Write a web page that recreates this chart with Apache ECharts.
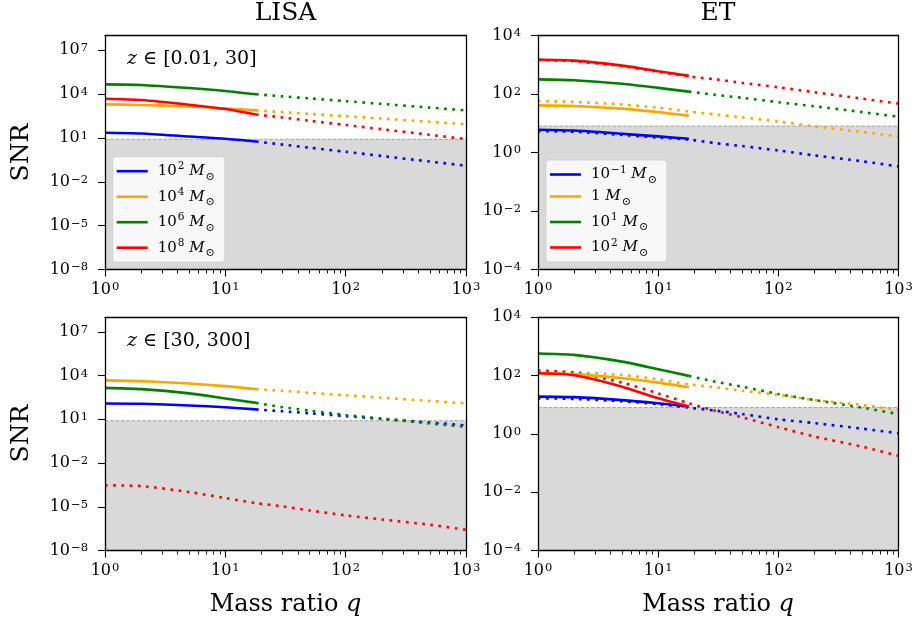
<!DOCTYPE html>
<html>
<head>
<meta charset="utf-8">
<script src="https://cdn.jsdelivr.net/npm/echarts@6/dist/echarts.min.js"></script>
<style>
    html, body { margin: 0; padding: 0; background: #fff; }
    #chart { width: 917px; height: 623px; }
</style>
</head>
<body>
<div id="chart"></div>
<script>
// mass ratio grid for the solid part and for the dotted part
const qSolid = [1, 2, 5, 10, 18]
const qDotted = [1, 2, 5, 10, 18, 30, 50, 100, 200, 500, 1000]
const snrThreshold = 8

// tick exponents (axes are log10)
const xTicks = [0, 1, 2, 3]
const xMinorTicks = [2, 3, 4, 5, 6, 7, 8, 9, 20, 30, 40, 50, 60, 70, 80, 90, 200, 300, 400, 500, 600, 700, 800, 900]
const lisaYTicks = [-8, -5, -2, 1, 4, 7]
const etYTicks = [-4, -2, 0, 2, 4]

// ---- all values below are log10(SNR) ----
// LISA, z in [0.01, 30]
const lisaLo_m2_solid = [1.35, 1.30, 1.09, 0.94, 0.75]
const lisaLo_m4_solid = [3.29, 3.25, 3.15, 3.01, 2.88]
const lisaLo_m6_solid = [4.66, 4.62, 4.41, 4.21, 3.98]
const lisaLo_m8_solid = [3.68, 3.59, 3.27, 2.97, 2.60]
const lisaLo_m2_dotted = [null, null, null, null, 0.75, 0.54, 0.33, 0.05, -0.24, -0.62, -0.90]
const lisaLo_m4_dotted = [null, null, null, null, 2.88, 2.76, 2.64, 2.48, 2.32, 2.10, 1.94]
const lisaLo_m6_dotted = [null, null, null, null, 3.98, 3.84, 3.70, 3.51, 3.32, 3.07, 2.88]
const lisaLo_m8_dotted = [null, null, null, null, 2.60, 2.39, 2.17, 1.88, 1.59, 1.21, 0.92]

// LISA, z in [30, 300]
const lisaHi_m2_solid = [2.09, 2.07, 1.95, 1.83, 1.68]
const lisaHi_m4_solid = [3.67, 3.62, 3.46, 3.28, 3.07]
const lisaHi_m6_solid = [3.16, 3.07, 2.78, 2.43, 2.13]
const lisaHi_m8_solid = null
const lisaHi_m2_dotted = [null, null, null, null, 1.68, 1.55, 1.42, 1.22, 1.03, 0.78, 0.58]
const lisaHi_m4_dotted = [null, null, null, null, 3.07, 2.95, 2.82, 2.65, 2.48, 2.26, 2.09]
const lisaHi_m6_dotted = [null, null, null, null, 2.13, 1.83, 1.60, 1.30, 1.05, 0.72, 0.48]
const lisaHi_m8_dotted = [-3.53, -3.58, -3.99, -4.40, -4.75, -4.97, -5.25, -5.59, -5.87, -6.23, -6.58]

// ET, z in [0.01, 30]
const etLo_m01_solid = [0.78, 0.75, 0.64, 0.55, 0.47]
const etLo_m1_solid = [1.61, 1.59, 1.50, 1.38, 1.26]
const etLo_m10_solid = [2.50, 2.47, 2.35, 2.21, 2.08]
const etLo_m100_solid = [3.18, 3.14, 2.97, 2.78, 2.62]
const etLo_m01_dotted = [0.73, 0.71, 0.60, 0.51, 0.44, 0.32, 0.22, 0.07, -0.10, -0.30, -0.48]
const etLo_m1_dotted = [1.76, 1.73, 1.64, 1.53, 1.40, 1.30, 1.20, 1.06, 0.89, 0.70, 0.55]
const etLo_m10_dotted = [null, null, null, null, 2.08, 1.97, 1.87, 1.72, 1.58, 1.38, 1.22]
const etLo_m100_dotted = [3.16, 3.12, 2.95, 2.76, 2.60, 2.50, 2.38, 2.23, 2.06, 1.84, 1.67]

// ET, z in [30, 300]
const etHi_m01_solid = [1.28, 1.26, 1.16, 1.05, 0.94]
const etHi_m1_solid = [2.10, 2.05, 1.91, 1.76, 1.60]
const etHi_m10_solid = [2.76, 2.71, 2.48, 2.22, 1.99]
const etHi_m100_solid = [2.08, 2.01, 1.62, 1.22, 0.94]
const etHi_m01_dotted = [1.22, 1.20, 1.12, 1.02, 0.90, 0.80, 0.68, 0.50, 0.37, 0.18, 0.02]
const etHi_m1_dotted = [2.17, 2.12, 2.02, 1.87, 1.70, 1.60, 1.48, 1.34, 1.16, 0.99, 0.82]
const etHi_m10_dotted = [null, null, null, null, 1.99, 1.79, 1.62, 1.37, 1.16, 0.90, 0.68]
const etHi_m100_dotted = [2.17, 2.10, 1.76, 1.39, 1.05, 0.79, 0.57, 0.23, -0.09, -0.44, -0.75]

const colors = ['#0000ff', '#ffa500', '#008000', '#ff0000']
const FONT = '"DejaVu Serif", "Liberation Serif", serif'

const panels = [
    {solid: [lisaLo_m2_solid, lisaLo_m4_solid, lisaLo_m6_solid, lisaLo_m8_solid],
     dotted: [lisaLo_m2_dotted, lisaLo_m4_dotted, lisaLo_m6_dotted, lisaLo_m8_dotted],
     grid: {left: 105, top: 35.5, width: 361, height: 234}, yMin: -8, yMax: 8, yTicks: lisaYTicks},
    {solid: [etLo_m01_solid, etLo_m1_solid, etLo_m10_solid, etLo_m100_solid],
     dotted: [etLo_m01_dotted, etLo_m1_dotted, etLo_m10_dotted, etLo_m100_dotted],
     grid: {left: 538, top: 35.5, width: 360.5, height: 234}, yMin: -4, yMax: 4, yTicks: etYTicks},
    {solid: [lisaHi_m2_solid, lisaHi_m4_solid, lisaHi_m6_solid, lisaHi_m8_solid],
     dotted: [lisaHi_m2_dotted, lisaHi_m4_dotted, lisaHi_m6_dotted, lisaHi_m8_dotted],
     grid: {left: 105, top: 317.3, width: 361, height: 233.2}, yMin: -8, yMax: 8, yTicks: lisaYTicks},
    {solid: [etHi_m01_solid, etHi_m1_solid, etHi_m10_solid, etHi_m100_solid],
     dotted: [etHi_m01_dotted, etHi_m1_dotted, etHi_m10_dotted, etHi_m100_dotted],
     grid: {left: 538, top: 317.3, width: 360.5, height: 233.2}, yMin: -4, yMax: 4, yTicks: etYTicks}
]

const tickRich = {
    b: {fontFamily: FONT, fontSize: 16, lineHeight: 16, verticalAlign: 'bottom', color: '#000'},
    s: {fontFamily: FONT, fontSize: 11.5, lineHeight: 12, verticalAlign: 'top', padding: [0, 0, 8, 1], color: '#000'}
}
function pow10Label (v) {
    return '{b|10}{s|' + String(Math.round(v)).replace('-', '\u2212') + '}'
}

const legendRich = {
    p: {fontFamily: FONT, fontSize: 15, lineHeight: 22, color: '#000', padding: [0, 0, 0, 5]},
    n: {fontFamily: FONT, fontSize: 15, lineHeight: 22, color: '#000'},
    s: {fontFamily: FONT, fontSize: 10.5, lineHeight: 11, verticalAlign: 'top', padding: [1, 0, 0, 1], color: '#000'},
    m: {fontFamily: FONT, fontSize: 15, lineHeight: 22, fontStyle: 'italic', color: '#000'},
    o: {fontFamily: FONT, fontSize: 11, lineHeight: 11, verticalAlign: 'bottom', padding: [0, 0, 0, 1], color: '#000'}
}
const lisaLegend = {
    A0: '{p|10}{s|2}{n| }{m|M}{o|\u2299}',
    A1: '{p|10}{s|4}{n| }{m|M}{o|\u2299}',
    A2: '{p|10}{s|6}{n| }{m|M}{o|\u2299}',
    A3: '{p|10}{s|8}{n| }{m|M}{o|\u2299}'
}
const etLegend = {
    B0: '{p|10}{s|\u22121}{n| }{m|M}{o|\u2299}',
    B1: '{p|1}{n| }{m|M}{o|\u2299}',
    B2: '{p|10}{s|1}{n| }{m|M}{o|\u2299}',
    B3: '{p|10}{s|2}{n| }{m|M}{o|\u2299}'
}

const grids = [], xAxes = [], yAxes = [], series = []
const panelIds = ['A', 'B', 'C', 'D']
const frameLine = {show: true, onZero: false, lineStyle: {color: '#000', width: 1.3}}

panels.forEach((p, i) => {
    grids.push(Object.assign({show: true, borderWidth: 0, backgroundColor: '#fff'}, p.grid))
    xAxes.push({
        type: 'value', gridIndex: i, position: 'bottom', min: 0, max: 3, interval: 1, z: 10,
        axisLine: frameLine,
        axisTick: {show: true, length: 7, lineStyle: {color: '#000', width: 1.1}},
        axisLabel: {margin: 12, formatter: pow10Label, rich: tickRich},
        splitLine: {show: false}
    })
    yAxes.push({
        type: 'value', gridIndex: i, position: 'left', min: p.yMin, max: p.yMax, z: 10,
        axisLine: frameLine,
        axisTick: {show: true, length: 7, customValues: p.yTicks, lineStyle: {color: '#000', width: 1.1}},
        axisLabel: {margin: 17, customValues: p.yTicks, formatter: pow10Label, rich: tickRich},
        splitLine: {show: false}
    })
    // threshold line with the shaded region under it
    series.push({
        type: 'line', xAxisIndex: i, yAxisIndex: i, silent: true, symbol: 'none', z: 1,
        data: [[0, Math.log10(snrThreshold)], [3, Math.log10(snrThreshold)]],
        lineStyle: {color: '#a3a3a3', width: 1, type: [3.7, 1.6]},
        areaStyle: {color: '#d9d9d9', opacity: 1, origin: 'start'}
    })
    for (let k = 0; k < 4; k++) {
        const dotted = p.dotted[k]
        if (dotted) {
            const pts = []
            qDotted.forEach((q, j) => { if (dotted[j] !== null) pts.push([Math.log10(q), dotted[j]]) })
            series.push({
                name: panelIds[i] + k + '_dot', type: 'line', xAxisIndex: i, yAxisIndex: i, silent: true,
                symbol: 'none', smooth: 0.25, z: 3, data: pts,
                lineStyle: {color: colors[k], width: 2.6, type: [2.7, 5.5], cap: 'butt'},
                itemStyle: {color: colors[k]}
            })
        }
        const solid = p.solid[k]
        if (solid) {
            series.push({
                name: panelIds[i] + k, type: 'line', xAxisIndex: i, yAxisIndex: i, silent: true,
                symbol: 'none', smooth: 0.25, z: 4,
                data: qSolid.map((q, j) => [Math.log10(q), solid[j]]),
                lineStyle: {color: colors[k], width: 2.6},
                itemStyle: {color: colors[k]}
            })
        }
    }
})

// minor ticks of the log x axes, plus the top and right spines
panels.forEach((p, i) => {
    xAxes.push({
        type: 'value', gridIndex: i, position: 'bottom', min: 0, max: 3, z: 10,
        axisLine: {show: false, onZero: false},
        axisTick: {show: true, length: 4, customValues: xMinorTicks.map(v => Math.log10(v)), lineStyle: {color: '#000', width: 0.9}},
        axisLabel: {show: false},
        splitLine: {show: false}
    })
    xAxes.push({
        type: 'value', gridIndex: i, position: 'top', min: 0, max: 3, z: 10,
        axisLine: frameLine, axisTick: {show: false}, axisLabel: {show: false}, splitLine: {show: false}
    })
    yAxes.push({
        type: 'value', gridIndex: i, position: 'right', min: p.yMin, max: p.yMax, z: 10,
        axisLine: frameLine, axisTick: {show: false}, axisLabel: {show: false}, splitLine: {show: false}
    })
})

function legendBox (left, top, names, texts) {
    return {
        orient: 'vertical', left: left, top: top, selectedMode: false,
        padding: [3.5, 10, 3.5, 4], itemGap: 3.5, itemWidth: 31, itemHeight: 2.6, icon: 'rect',
        data: names, formatter: n => texts[n],
        textStyle: {fontFamily: FONT, fontSize: 15, color: '#000', rich: legendRich},
        backgroundColor: 'rgba(255,255,255,0.8)', borderColor: 'rgba(204,204,204,0.8)',
        borderWidth: 1, borderRadius: 3
    }
}

const italicRich = {
    t: {fontFamily: FONT, fontSize: 19, color: '#000'},
    i: {fontFamily: FONT, fontSize: 19, fontStyle: 'italic', color: '#000'},
    T: {fontFamily: FONT, fontSize: 24, color: '#000'},
    I: {fontFamily: FONT, fontSize: 24, fontStyle: 'italic', color: '#000'}
}
function label (x, y, text, size, rot) {
    return {
        type: 'text', x: x, y: y, rotation: rot || 0, silent: true,
        style: {text: text, font: size + 'px ' + FONT, fill: '#000', align: 'center', verticalAlign: 'middle', rich: italicRich}
    }
}

const chart = echarts.init(document.getElementById('chart'))
chart.setOption({
    animation: false,
    backgroundColor: '#fff',
    grid: grids,
    xAxis: xAxes,
    yAxis: yAxes,
    series: series,
    legend: [
        legendBox(112.7, 156.7, ['A0', 'A1', 'A2', 'A3'], lisaLegend),
        legendBox(546, 160, ['B0', 'B1', 'B2', 'B3'], etLegend)
    ],
    graphic: [
        label(285.5, 13.5, 'LISA', 25),
        label(718, 13.5, 'ET', 25),
        label(21, 152.5, 'SNR', 25, Math.PI / 2),
        label(21, 433.5, 'SNR', 25, Math.PI / 2),
        label(285.5, 605, '{T|Mass ratio }{I|q}', 24),
        label(718, 605, '{T|Mass ratio }{I|q}', 24),
        {type: 'text', x: 127, y: 59, silent: true,
         style: {text: '{i|z}{t| \u2208 [0.01, 30]}', verticalAlign: 'middle', rich: italicRich}},
        {type: 'text', x: 127, y: 341, silent: true,
         style: {text: '{i|z}{t| \u2208 [30, 300]}', verticalAlign: 'middle', rich: italicRich}}
    ]
})
</script>
</body>
</html>
